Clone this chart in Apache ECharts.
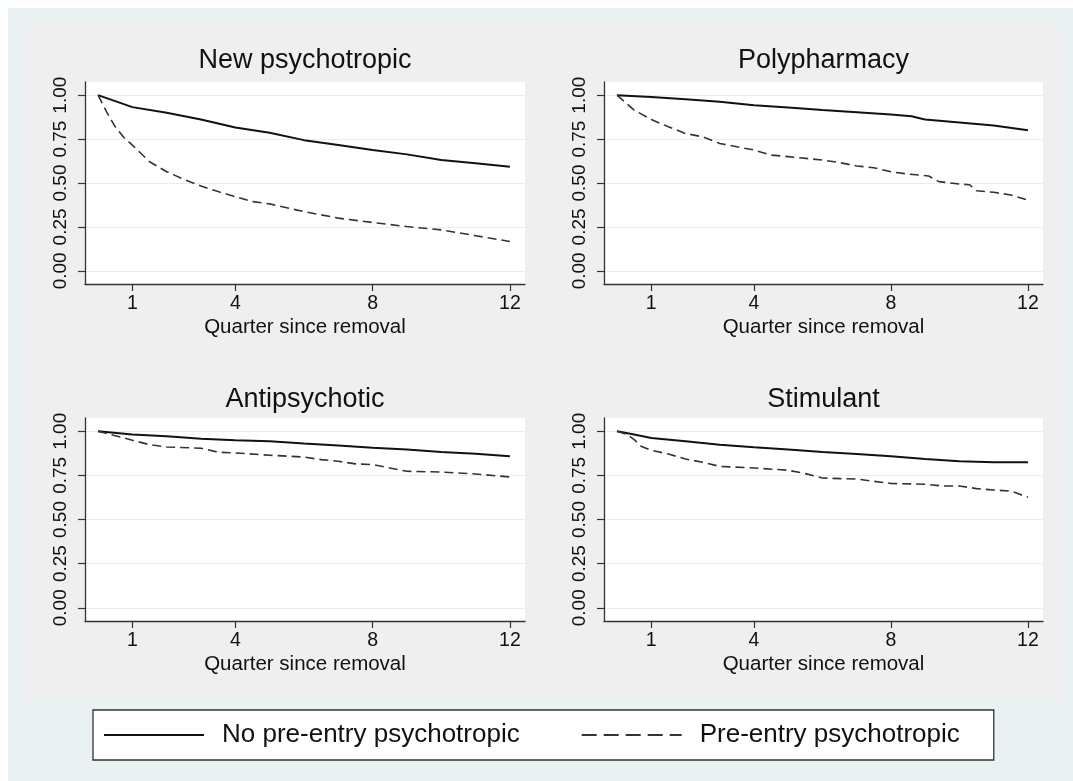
<!DOCTYPE html>
<html><head><meta charset="utf-8">
<script src="https://cdn.jsdelivr.net/npm/echarts@6/dist/echarts.min.js"></script>
<style>html,body{margin:0;padding:0;background:#fff}#c{width:1073px;height:781px}</style>
</head><body><div id="c"></div>
<script>
const panelTitles = ['New psychotropic', 'Polypharmacy', 'Antipsychotic', 'Stimulant'];
const seriesNames = ['No pre-entry psychotropic', 'Pre-entry psychotropic'];
const xTickValues = [1, 4, 8, 12];
const yTickValues = [0, 0.25, 0.5, 0.75, 1];
const xAxisName = 'Quarter since removal';

// New psychotropic
const newNoQ = [0, 0.5, 1, 2, 3, 4, 5, 6, 7, 8, 9, 10, 11, 12];
const newNoS = [1, 0.966, 0.932, 0.9, 0.862, 0.816, 0.786, 0.744, 0.716, 0.688, 0.663, 0.631, 0.612, 0.593];
const newPreQ = [0, 0.25, 0.5, 0.75, 1, 1.5, 2, 2.5, 3, 3.5, 4, 4.5, 5, 6, 7, 8, 9, 10, 11, 12];
const newPreS = [1, 0.905, 0.82, 0.76, 0.716, 0.621, 0.564, 0.521, 0.483, 0.451, 0.422, 0.394, 0.381, 0.337, 0.30, 0.275, 0.252, 0.233, 0.20, 0.167];

// Polypharmacy
const polyNoQ = [0, 1, 2, 3, 4, 5, 6, 7, 8, 8.6, 8.9, 9, 10, 11, 12];
const polyNoS = [1, 0.99, 0.977, 0.962, 0.943, 0.93, 0.915, 0.903, 0.89, 0.88, 0.866, 0.862, 0.845, 0.828, 0.80];
const polyPreQ = [0, 0.5, 1, 1.5, 2, 2.5, 3, 3.5, 4, 4.5, 5, 6, 6.5, 7, 7.5, 8, 8.5, 9.1, 9.4, 10, 10.3, 10.5, 11, 11.5, 12];
const polyPreS = [1, 0.915, 0.862, 0.82, 0.782, 0.763, 0.725, 0.706, 0.688, 0.659, 0.65, 0.631, 0.616, 0.597, 0.587, 0.564, 0.551, 0.54, 0.508, 0.494, 0.49, 0.456, 0.447, 0.432, 0.403];

// Antipsychotic
const antiNoQ = [0, 1, 2, 3, 4, 5, 6, 7, 8, 9, 10, 11, 12];
const antiNoS = [1, 0.981, 0.972, 0.958, 0.949, 0.943, 0.93, 0.919, 0.907, 0.896, 0.883, 0.873, 0.858];
const antiPreQ = [0, 0.5, 1, 1.5, 2, 3, 3.5, 4, 5, 6, 6.5, 7, 7.5, 8, 8.5, 9, 10, 11, 12];
const antiPreS = [1, 0.975, 0.949, 0.924, 0.911, 0.904, 0.881, 0.877, 0.864, 0.854, 0.839, 0.83, 0.815, 0.811, 0.792, 0.773, 0.769, 0.758, 0.741];

// Stimulant
const stimNoQ = [0, 0.5, 1, 2, 3, 4, 5, 6, 7, 8, 9, 10, 11, 12];
const stimNoS = [1, 0.981, 0.962, 0.943, 0.924, 0.909, 0.896, 0.883, 0.871, 0.858, 0.843, 0.83, 0.824, 0.824];
const stimPreQ = [0, 0.3, 0.5, 0.7, 1, 1.5, 2, 2.5, 3, 4, 5, 5.5, 6, 7, 8, 9, 9.5, 10, 10.5, 11, 11.5, 11.8, 12];
const stimPreS = [1, 0.981, 0.953, 0.915, 0.892, 0.871, 0.843, 0.824, 0.801, 0.792, 0.779, 0.76, 0.735, 0.729, 0.704, 0.70, 0.69, 0.69, 0.675, 0.667, 0.661, 0.64, 0.626];

const panels = [
  [[newNoQ, newNoS], [newPreQ, newPreS]],
  [[polyNoQ, polyNoS], [polyPreQ, polyPreS]],
  [[antiNoQ, antiNoS], [antiPreQ, antiPreS]],
  [[stimNoQ, stimNoS], [stimPreQ, stimPreS]]
];

const FONT = 'Liberation Sans, Arial, Helvetica, sans-serif';
const AX = '#333';
const gridPos = [
  {left: 85, top: 82, width: 440, height: 202},
  {left: 604, top: 82, width: 439, height: 202},
  {left: 85, top: 418, width: 440, height: 203},
  {left: 604, top: 418, width: 439, height: 203}
];
const titleTops = [47, 47, 386, 386];

const grids = [], xAxes = [], yAxes = [], titles = [], series = [];
gridPos.forEach((g, i) => {
  grids.push(Object.assign({show: true, backgroundColor: '#ffffff', borderWidth: 0, outerBoundsMode: 'none', containLabel: false}, g));
  titles.push({
    text: panelTitles[i], left: g.left + g.width / 2, top: titleTops[i], textAlign: 'center', padding: 0,
    textStyle: {fontFamily: FONT, fontSize: 27, fontWeight: 'normal', color: '#111'}
  });
  xAxes.push({
    type: 'value', gridIndex: i, min: -0.38, max: 12.44,
    name: xAxisName, nameLocation: 'middle', nameGap: 33,
    nameTextStyle: {fontFamily: FONT, fontSize: 20.5, color: '#111'},
    axisLine: {show: true, onZero: false, lineStyle: {color: AX, width: 1.3}},
    axisTick: {show: true, length: 7, lineStyle: {color: AX, width: 1.2}, customValues: xTickValues},
    axisLabel: {fontFamily: FONT, fontSize: 19.5, color: '#111', margin: 10, customValues: xTickValues},
    splitLine: {show: false}
  });
  yAxes.push({
    type: 'value', gridIndex: i, min: -0.075, max: 1.075,
    axisLine: {show: true, onZero: false, lineStyle: {color: AX, width: 1.3}},
    axisTick: {show: true, length: 7, lineStyle: {color: AX, width: 1.2}, customValues: yTickValues},
    axisLabel: {fontFamily: FONT, fontSize: 19, color: '#111', margin: 15, rotate: 90,
      customValues: yTickValues, formatter: v => Number(v).toFixed(2)},
    splitLine: {show: true, lineStyle: {color: '#ebebeb', width: 1}}
  });
  panels[i].forEach((pair, k) => {
    const [q, s] = pair;
    series.push({
      name: seriesNames[k], type: 'line', xAxisIndex: i, yAxisIndex: i,
      data: q.map((t, j) => [t, s[j]]),
      showSymbol: false, symbol: 'none', smooth: false, silent: true,
      lineStyle: k === 0 ? {color: '#111', width: 2, type: 'solid'} : {color: '#333', width: 1.6, type: [9, 5]},
      itemStyle: {color: k === 0 ? '#111' : '#333'},
      z: 3
    });
  });
});

const chart = echarts.init(document.getElementById('c'), null, {renderer: 'canvas'});
chart.setOption({
  animation: false,
  backgroundColor: '#ffffff',
  graphic: [
    {type: 'rect', shape: {x: 8, y: 8, width: 1065, height: 773}, style: {fill: '#e9f1f3'}, z: -100, silent: true},
    {type: 'rect', shape: {x: 25, y: 23, width: 1038, height: 677}, style: {fill: '#efefef'}, z: -99, silent: true}
  ],
  title: titles,
  grid: grids,
  xAxis: xAxes,
  yAxis: yAxes,
  legend: {
    show: true,
    left: 93, top: 710, orient: 'horizontal',
    itemWidth: 100, itemHeight: 2, itemGap: 62,
    padding: [12, 34, 12, 11],
    backgroundColor: '#ffffff', borderColor: '#333', borderWidth: 1.3,
    selectedMode: false,
    textStyle: {fontFamily: FONT, fontSize: 26, color: '#111', padding: [0, 0, 0, 13]},
    data: [
      {name: seriesNames[0], icon: 'rect', itemStyle: {color: '#111'}},
      {name: seriesNames[1], icon: 'path://M0,0h15v2h-15zM22,0h15v2h-15zM44,0h15v2h-15zM66,0h15v2h-15zM88,0h12v2h-12z', itemStyle: {color: '#333'}}
    ]
  },
  series: series
});
</script>
</body></html>
